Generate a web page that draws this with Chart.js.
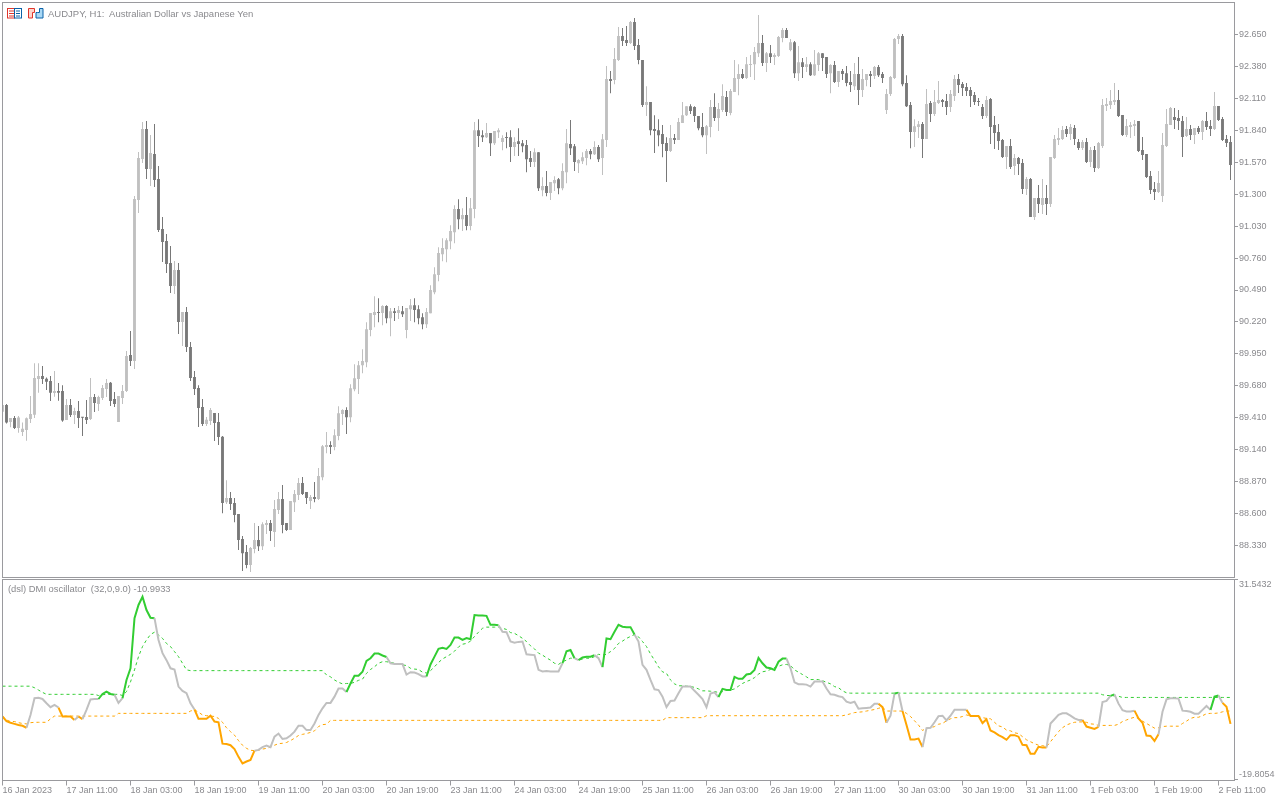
<!DOCTYPE html>
<html>
<head>
<meta charset="utf-8">
<title>AUDJPY, H1</title>
<script src="https://cdn.jsdelivr.net/npm/chart.js@4/dist/chart.umd.js"></script>
<style>
  html, body { margin: 0; padding: 0; background: #fff; }
  body { position: relative; width: 1280px; height: 800px; overflow: hidden; }
  canvas { position: absolute; left: 0; }
  #priceChart { top: 0; }
  #dmiChart { top: 578px; }
  .caption { position: absolute; font: 9.5px "Liberation Sans", sans-serif; color: #8a8a8e; white-space: pre; }
  #icons { position: absolute; left: 7px; top: 8px; }
</style>
</head>
<body>
<canvas id="priceChart" width="1280" height="578"></canvas>
<canvas id="dmiChart" width="1280" height="222"></canvas>
<svg id="icons" width="37" height="11" viewBox="0 0 37 11">
  <rect x="0.5" y="0.5" width="7" height="9.5" fill="#fff" stroke="#e0352b"/>
  <rect x="7.5" y="0.5" width="7" height="9.5" fill="#fff" stroke="#0a62a8"/>
  <path d="M2 3h5M2 5.5h5M2 8h5" stroke="#e0352b"/>
  <path d="M9 3h4M9 5.5h4M9 8h4" stroke="#0a62a8"/>
  <path d="M21.5 0.5h6v4h-2v5.5h-4z" fill="#fdd5cc" stroke="#e0352b"/>
  <path d="M30.5 4.5h2v-4h3.5v9.5h-7v-5.5z" fill="#a9d8f5" stroke="#0a62a8"/>
</svg>
<div class="caption" style="left:48px;top:8px">AUDJPY, H1:  Australian Dollar vs Japanese Yen</div>
<div class="caption" style="left:8px;top:583px;font-size:9.4px">(dsl) DMI oscillator  (32,0,9.0) -10.9933</div>
<script>
const priceTicks = [88.33, 88.6, 88.87, 89.14, 89.41, 89.68, 89.95, 90.22, 90.49, 90.76, 91.03, 91.3, 91.57, 91.84, 92.11, 92.38, 92.65];
const dmiTicks = [-19.8054, 31.5432];
const timeLabels = ["16 Jan 2023", "17 Jan 11:00", "18 Jan 03:00", "18 Jan 19:00", "19 Jan 11:00", "20 Jan 03:00", "20 Jan 19:00", "23 Jan 11:00", "24 Jan 03:00", "24 Jan 19:00", "25 Jan 11:00", "26 Jan 03:00", "26 Jan 19:00", "27 Jan 11:00", "30 Jan 03:00", "30 Jan 19:00", "31 Jan 11:00", "1 Feb 03:00", "1 Feb 19:00", "2 Feb 11:00"];

const open = [
  89.461,89.517,89.374,89.408,89.323,89.289,89.306,89.399,89.436,89.737,
  89.763,89.740,89.720,89.619,89.636,89.636,89.391,89.517,89.433,89.467,
  89.416,89.416,89.399,89.585,89.526,89.577,89.653,89.706,89.568,89.374,
  89.577,89.636,89.940,89.889,91.250,91.597,91.851,91.512,91.639,91.428,
  91.005,90.904,90.718,90.523,90.659,90.219,90.304,90.008,89.754,89.661,
  89.501,89.357,89.382,89.450,89.374,89.250,88.697,88.731,88.689,88.596,
  88.385,88.275,88.165,88.300,88.376,88.325,88.503,88.520,88.444,88.630,
  88.723,88.520,88.461,88.697,88.757,88.858,88.782,88.706,88.740,88.723,
  88.908,89.162,89.179,89.162,89.255,89.441,89.475,89.415,89.652,89.737,
  89.855,89.880,90.151,90.278,90.303,90.295,90.354,90.252,90.311,90.295,
  90.311,90.151,90.328,90.362,90.328,90.260,90.201,90.294,90.472,90.616,
  90.793,90.835,90.903,90.979,91.174,91.089,91.123,91.030,91.174,91.841,
  91.799,91.782,91.816,91.731,91.824,91.740,91.782,91.782,91.698,91.748,
  91.731,91.715,91.605,91.571,91.655,91.334,91.368,91.309,91.393,91.427,
  91.351,91.486,91.723,91.706,91.562,91.579,91.605,91.664,91.638,91.698,
  91.605,91.757,92.273,92.264,92.433,92.636,92.602,92.577,92.755,92.560,
  92.433,92.053,92.078,91.850,91.841,91.808,91.732,91.664,91.774,91.757,
  91.901,91.968,92.044,92.036,91.960,91.867,91.799,91.867,92.036,91.943,
  92.011,92.121,91.985,92.163,92.273,92.315,92.281,92.391,92.399,92.492,
  92.577,92.408,92.492,92.459,92.467,92.619,92.687,92.518,92.585,92.323,
  92.416,92.374,92.399,92.306,92.391,92.492,92.459,92.323,92.391,92.247,
  92.340,92.323,92.247,92.213,92.315,92.180,92.264,92.315,92.298,92.374,
  92.315,92.011,92.146,92.281,92.611,92.636,92.239,92.053,91.825,91.867,
  91.893,91.766,92.070,91.977,92.070,92.096,92.087,92.037,92.130,92.273,
  92.231,92.206,92.180,92.138,92.087,92.037,91.961,92.104,91.884,91.825,
  91.758,91.614,91.707,91.538,91.606,91.563,91.343,91.428,91.107,91.267,
  91.208,91.267,91.217,91.606,91.758,91.766,91.851,91.808,91.859,91.741,
  91.690,91.741,91.572,91.673,91.521,91.707,92.045,92.054,92.079,92.096,
  91.969,91.800,91.868,91.876,91.918,91.673,91.639,91.453,91.343,91.318,
  91.284,91.707,91.884,91.952,91.944,91.918,91.791,91.851,91.800,91.859,
  91.825,91.918,91.876,91.851,92.045,91.935,91.766,91.741
];
const high = [
  89.517,89.526,89.408,89.425,89.425,89.371,89.413,89.594,89.870,89.870,
  89.847,89.751,89.763,89.805,89.703,89.684,89.568,89.568,89.495,89.551,
  89.416,89.560,89.746,89.610,89.596,89.687,89.737,89.712,89.627,89.594,
  89.687,89.974,90.143,91.284,91.656,91.910,91.918,91.800,91.893,91.538,
  91.107,90.963,90.862,90.735,90.718,90.304,90.346,90.050,89.805,89.684,
  89.568,89.416,89.492,89.450,89.450,89.255,88.883,88.782,88.731,88.596,
  88.410,88.334,88.317,88.520,88.495,88.528,88.545,88.545,88.714,88.782,
  88.841,88.520,88.706,88.799,88.900,88.909,88.782,88.757,88.867,88.985,
  89.179,89.289,89.212,89.314,89.508,89.483,89.500,89.694,89.863,89.889,
  89.990,90.218,90.295,90.438,90.421,90.362,90.362,90.337,90.337,90.354,
  90.354,90.337,90.413,90.421,90.362,90.294,90.337,90.531,90.683,90.852,
  90.928,90.928,91.038,91.207,91.258,91.182,91.275,91.267,91.909,91.934,
  91.841,91.901,91.816,91.833,91.858,91.799,91.824,91.841,91.782,91.858,
  91.757,91.757,91.664,91.689,91.655,91.444,91.495,91.402,91.452,91.436,
  91.562,91.850,91.926,91.723,91.596,91.655,91.681,91.681,91.748,91.715,
  91.808,92.383,92.340,92.535,92.712,92.704,92.721,92.763,92.788,92.611,
  92.433,92.213,92.078,91.968,91.934,91.884,91.782,91.884,91.808,91.943,
  92.078,92.044,92.061,92.044,91.960,91.985,91.884,92.095,92.154,92.070,
  92.230,92.171,92.188,92.433,92.399,92.357,92.459,92.476,92.543,92.814,
  92.645,92.501,92.560,92.492,92.636,92.704,92.704,92.611,92.594,92.552,
  92.450,92.459,92.416,92.518,92.501,92.492,92.459,92.399,92.425,92.340,
  92.357,92.383,92.340,92.408,92.459,92.357,92.315,92.340,92.383,92.391,
  92.332,92.188,92.298,92.619,92.653,92.653,92.306,92.078,91.934,91.918,
  91.910,92.189,92.087,92.180,92.256,92.104,92.147,92.180,92.307,92.316,
  92.248,92.240,92.206,92.163,92.113,92.062,92.130,92.113,91.961,91.893,
  91.766,91.707,91.766,91.639,91.614,91.597,91.445,91.436,91.267,91.377,
  91.428,91.377,91.614,91.800,91.859,91.876,91.876,91.893,91.884,91.766,
  91.758,91.775,91.699,91.707,91.741,92.104,92.113,92.180,92.240,92.180,
  91.969,91.935,91.910,91.927,91.918,91.783,91.639,91.496,91.403,91.496,
  91.817,92.020,92.037,92.028,92.011,91.961,91.952,91.884,91.859,91.876,
  91.927,91.994,91.927,92.163,92.045,91.952,91.800,91.791
];
const low = [
  89.461,89.362,89.329,89.315,89.284,89.255,89.216,89.365,89.408,89.622,
  89.695,89.644,89.551,89.588,89.554,89.377,89.391,89.416,89.357,89.323,
  89.255,89.357,89.391,89.458,89.467,89.560,89.585,89.509,89.501,89.374,
  89.526,89.627,89.847,89.822,91.141,91.563,91.428,91.369,91.360,90.980,
  90.726,90.633,90.464,90.456,90.118,90.016,89.966,89.720,89.602,89.332,
  89.340,89.340,89.348,89.213,89.179,88.604,88.681,88.630,88.528,88.292,
  88.114,88.139,88.106,88.266,88.283,88.292,88.427,88.368,88.317,88.596,
  88.435,88.452,88.461,88.613,88.714,88.757,88.681,88.638,88.697,88.714,
  88.883,89.111,89.103,89.136,89.221,89.348,89.272,89.373,89.635,89.610,
  89.787,89.838,90.100,90.176,90.218,90.193,90.210,90.100,90.227,90.244,
  90.261,90.083,90.227,90.218,90.201,90.159,90.168,90.294,90.455,90.565,
  90.734,90.725,90.835,90.886,91.004,90.988,90.996,90.996,91.097,91.698,
  91.740,91.774,91.622,91.715,91.774,91.672,91.689,91.571,91.622,91.622,
  91.655,91.486,91.529,91.529,91.326,91.283,91.283,91.250,91.326,91.300,
  91.334,91.393,91.630,91.495,91.478,91.554,91.545,91.596,91.630,91.571,
  91.461,91.698,92.154,92.230,92.425,92.552,92.552,92.569,92.518,92.399,
  92.036,91.960,91.799,91.647,91.706,91.613,91.402,91.656,91.723,91.757,
  91.901,91.960,91.977,91.909,91.841,91.782,91.639,91.782,91.918,91.833,
  91.994,91.960,91.968,92.163,92.137,92.273,92.273,92.290,92.264,92.459,
  92.383,92.332,92.408,92.391,92.459,92.585,92.619,92.509,92.281,92.256,
  92.281,92.332,92.298,92.298,92.340,92.340,92.281,92.154,92.239,92.205,
  92.264,92.213,92.163,92.180,92.053,92.121,92.213,92.205,92.273,92.290,
  92.239,91.977,92.129,92.273,92.569,92.213,92.036,91.689,91.698,91.774,
  91.606,91.766,91.910,91.961,92.062,92.037,91.969,91.994,92.087,92.155,
  92.130,92.130,92.037,92.054,92.045,91.935,91.944,91.724,91.682,91.673,
  91.606,91.513,91.513,91.462,91.462,91.301,91.293,91.107,91.081,91.141,
  91.132,91.124,91.191,91.597,91.715,91.758,91.783,91.758,91.715,91.673,
  91.673,91.563,91.529,91.487,91.513,91.690,92.003,92.020,92.054,91.952,
  91.791,91.783,91.775,91.791,91.656,91.589,91.436,91.301,91.250,91.310,
  91.234,91.699,91.884,91.851,91.842,91.614,91.783,91.758,91.724,91.808,
  91.758,91.842,91.791,91.842,91.918,91.749,91.699,91.420
];
const close = [
  89.517,89.371,89.408,89.323,89.413,89.317,89.405,89.441,89.746,89.763,
  89.737,89.715,89.622,89.636,89.622,89.388,89.517,89.433,89.467,89.408,
  89.410,89.391,89.585,89.534,89.585,89.661,89.703,89.551,89.526,89.594,
  89.636,89.932,89.889,91.259,91.605,91.851,91.512,91.648,91.419,90.997,
  90.895,90.709,90.523,90.659,90.219,90.304,90.008,89.746,89.653,89.492,
  89.357,89.394,89.475,89.365,89.247,88.689,88.731,88.681,88.588,88.376,
  88.266,88.165,88.309,88.376,88.325,88.511,88.520,88.452,88.638,88.723,
  88.503,88.461,88.706,88.765,88.858,88.765,88.731,88.740,88.723,88.917,
  89.170,89.179,89.162,89.263,89.449,89.475,89.415,89.660,89.745,89.855,
  89.889,90.159,90.295,90.303,90.295,90.354,90.252,90.311,90.295,90.320,
  90.286,90.337,90.362,90.320,90.252,90.201,90.303,90.489,90.624,90.802,
  90.844,90.911,90.988,91.174,91.089,91.123,91.030,91.182,91.841,91.791,
  91.782,91.816,91.731,91.833,91.841,91.774,91.774,91.698,91.740,91.723,
  91.706,91.596,91.571,91.655,91.351,91.368,91.309,91.402,91.419,91.351,
  91.495,91.731,91.689,91.571,91.588,91.613,91.664,91.638,91.698,91.596,
  91.765,92.273,92.256,92.442,92.636,92.594,92.577,92.755,92.552,92.433,
  92.053,92.078,91.841,91.833,91.799,91.723,91.664,91.774,91.757,91.909,
  91.968,92.044,92.002,91.960,91.858,91.799,91.875,92.036,91.943,92.019,
  92.129,91.994,92.171,92.281,92.315,92.281,92.399,92.399,92.501,92.577,
  92.408,92.492,92.459,92.476,92.628,92.687,92.619,92.585,92.323,92.416,
  92.374,92.399,92.306,92.399,92.492,92.450,92.315,92.391,92.247,92.340,
  92.315,92.239,92.222,92.315,92.180,92.273,92.315,92.298,92.374,92.306,
  92.281,92.146,92.290,92.611,92.636,92.230,92.044,91.825,91.875,91.892,
  91.766,92.062,91.977,92.079,92.096,92.079,92.037,92.147,92.273,92.223,
  92.197,92.172,92.130,92.079,92.079,91.961,92.096,91.868,91.817,91.749,
  91.614,91.707,91.529,91.606,91.555,91.343,91.428,91.107,91.267,91.217,
  91.267,91.217,91.614,91.766,91.775,91.842,91.808,91.868,91.766,91.690,
  91.741,91.572,91.673,91.521,91.732,92.054,92.062,92.087,92.096,91.961,
  91.800,91.876,91.884,91.893,91.665,91.631,91.445,91.335,91.318,91.394,
  91.715,91.893,92.028,91.927,91.918,91.783,91.851,91.800,91.859,91.825,
  91.918,91.868,91.851,92.045,91.927,91.758,91.732,91.546
];

const dmiLine = [
  -3.6,-4.8,-5.2,-5.5,-5.8,-6.0,-6.5,-3.2,1.1,1.2,
  0.9,-0.2,-1.2,-0.6,-1.3,-3.6,-3.6,-3.6,-4.5,-3.6,
  -4.3,-1.9,0.8,0.9,0.9,2.2,2.8,2.2,2.0,-0.1,
  1.1,5.8,8.8,21.7,25.1,27.2,23.8,21.8,21.7,16.1,
  12.7,10.9,8.8,8.5,4.1,3.0,2.4,-0.2,-1.8,-4.2,
  -4.2,-4.2,-3.4,-4.9,-5.1,-10.6,-10.7,-11.0,-12.0,-14.0,
  -15.7,-15.2,-14.8,-12.4,-12.2,-11.5,-11.1,-11.5,-8.8,-8.0,
  -9.4,-9.2,-8.5,-7.5,-6.0,-6.0,-7.1,-7.1,-5.4,-3.2,
  -1.5,-0.1,-0.1,1.5,3.6,3.6,2.7,4.9,6.9,6.9,
  7.9,10.7,11.4,12.6,12.6,12.1,11.7,10.1,9.9,9.9,
  9.9,7.2,7.8,7.7,7.3,6.7,6.7,9.8,11.8,13.8,
  14.1,13.8,14.8,16.7,16.7,16.1,16.6,16.3,22.5,22.4,
  22.4,22.3,20.0,20.0,19.9,18.2,18.1,15.7,15.4,15.6,
  15.7,12.4,12.3,12.2,8.4,8.0,8.1,8.0,8.0,8.0,
  10.1,13.2,13.5,11.4,10.9,11.6,11.8,11.8,12.2,11.4,
  9.1,16.5,16.3,18.2,20.0,19.5,19.4,19.4,17.5,15.7,
  9.7,8.4,5.8,3.4,3.2,1.5,-1.2,0.4,0.5,2.4,
  4.1,4.1,4.1,3.0,2.0,0.9,-1.2,2.3,2.6,1.4,
  3.5,3.2,3.2,6.6,6.1,6.1,7.2,7.4,8.4,11.5,
  10.1,9.0,8.8,8.4,10.5,11.3,11.3,8.8,5.2,4.7,
  4.7,4.6,4.1,5.4,5.4,5.4,3.6,2.1,2.0,1.6,
  1.4,0.2,-0.1,0.2,-1.6,-1.5,-1.4,-1.3,-0.3,-0.3,
  -1.2,-5.2,-3.4,2.3,2.5,-2.2,-5.8,-9.5,-9.5,-9.3,
  -11.5,-6.6,-6.5,-5.1,-3.5,-3.4,-4.6,-3.4,-1.9,-1.9,
  -1.9,-1.9,-3.5,-3.5,-3.5,-5.3,-4.3,-7.2,-7.7,-8.4,
  -8.9,-9.6,-8.4,-8.4,-8.8,-10.9,-11.0,-13.2,-13.2,-11.4,
  -11.6,-11.6,-5.4,-4.3,-3.2,-2.8,-2.8,-3.4,-4.1,-4.5,
  -4.5,-6.2,-6.5,-6.8,-6.3,0.1,0.4,1.7,2.1,-0.3,
  -2.0,-2.3,-2.3,-2.1,-4.1,-5.2,-8.5,-8.6,-9.9,-8.2,
  -2.4,0.8,1.1,1.1,1.0,-2.1,-2.2,-2.4,-2.9,-2.9,
  -1.9,-0.9,-1.9,1.5,1.8,-0.1,-1.1,-5.5
];
const dmiUpper = [
  4.2,4.2,4.2,4.2,4.2,4.2,4.2,4.2,3.8,3.2,
  2.6,2.1,2.1,2.1,2.1,2.1,2.1,2.1,2.1,2.1,
  2.1,2.1,2.1,2.1,1.8,2.0,2.1,2.1,2.1,2.1,
  1.8,2.8,5.3,8.4,11.8,14.4,16.1,17.5,18.1,17.4,
  16.5,15.2,14.4,13.1,11.8,10.1,8.4,8.2,8.2,8.2,
  8.2,8.2,8.2,8.2,8.2,8.2,8.2,8.2,8.2,8.2,
  8.2,8.2,8.2,8.2,8.2,8.2,8.2,8.2,8.2,8.2,
  8.2,8.2,8.2,8.2,8.2,8.2,8.2,8.2,8.2,8.2,
  8.2,7.1,6.6,5.8,5.2,4.8,4.9,4.9,5.2,5.7,
  6.0,7.5,8.5,9.2,10.1,10.5,10.5,10.3,10.1,9.8,
  9.7,9.5,8.8,8.6,8.5,7.8,7.6,8.2,9.2,10.3,
  11.2,11.8,12.4,13.2,14.3,15.0,15.2,15.8,17.0,18.1,
  19.1,19.4,19.4,19.4,19.4,19.1,18.8,18.0,17.8,17.2,
  16.5,15.7,14.6,13.8,12.7,12.2,11.5,10.9,10.1,9.8,
  10.5,10.9,11.4,11.4,10.9,11.2,11.4,11.4,11.8,12.4,
  12.2,12.4,13.1,13.9,15.2,15.8,16.5,17.0,17.5,16.9,
  15.7,14.4,12.5,10.9,9.2,7.9,7.5,5.8,4.8,4.3,
  4.3,4.2,4.1,3.9,3.5,3.0,3.0,2.9,2.8,2.6,
  2.8,3.1,3.2,3.5,4.2,4.9,5.4,5.8,6.4,7.3,
  7.9,8.1,8.5,9.0,9.3,9.7,9.8,9.5,8.4,7.8,
  7.2,6.6,5.9,5.9,5.9,5.6,5.2,4.8,4.1,3.8,
  3.0,2.5,2.4,2.4,2.4,2.4,2.4,2.4,2.4,2.4,
  2.4,2.4,2.4,2.4,2.4,2.4,2.4,2.4,2.4,2.4,
  2.4,2.4,2.4,2.4,2.4,2.4,2.4,2.4,2.4,2.4,
  2.4,2.4,2.4,2.4,2.4,2.4,2.4,2.4,2.4,2.4,
  2.4,2.4,2.4,2.4,2.4,2.4,2.4,2.4,2.4,2.4,
  2.4,2.4,2.4,2.4,2.4,2.4,2.4,2.4,2.4,2.4,
  2.4,2.4,2.4,2.4,2.4,2.0,1.8,1.8,1.7,1.6,
  1.3,1.3,1.3,1.3,1.3,1.3,1.3,1.3,1.3,1.3,
  1.3,1.3,1.3,1.3,1.3,1.3,1.3,1.3,1.3,1.3,
  1.3,1.3,1.3,1.3,1.3,1.3,1.3,1.3
];
const dmiLower = [
  -3.6,-4.5,-4.9,-4.9,-5.2,-5.4,-5.5,-5.2,-5.1,-5.1,
  -5.1,-5.1,-4.2,-3.5,-3.5,-3.5,-3.5,-3.5,-3.5,-3.5,
  -3.5,-3.5,-3.5,-3.5,-3.5,-3.5,-3.5,-3.5,-3.5,-2.8,
  -2.8,-2.8,-2.8,-2.8,-2.8,-2.8,-2.8,-2.8,-2.8,-2.8,
  -2.8,-2.8,-2.8,-2.8,-2.8,-2.8,-2.8,-2.2,-1.9,-2.5,
  -3.2,-3.4,-3.5,-3.6,-4.1,-5.1,-6.5,-7.5,-8.4,-9.8,
  -11.0,-11.8,-12.3,-12.4,-12.3,-12.0,-11.8,-11.5,-11.0,-10.6,
  -10.5,-10.3,-9.8,-9.2,-8.5,-8.2,-8.0,-7.7,-7.3,-6.2,
  -5.7,-5.6,-4.6,-4.6,-4.6,-4.6,-4.6,-4.6,-4.6,-4.6,
  -4.6,-4.6,-4.6,-4.6,-4.6,-4.6,-4.6,-4.6,-4.6,-4.6,
  -4.6,-4.6,-4.6,-4.6,-4.6,-4.6,-4.6,-4.6,-4.6,-4.6,
  -4.6,-4.6,-4.6,-4.6,-4.6,-4.6,-4.6,-4.6,-4.6,-4.6,
  -4.6,-4.6,-4.6,-4.6,-4.6,-4.6,-4.6,-4.6,-4.6,-4.6,
  -4.6,-4.6,-4.6,-4.6,-4.6,-4.6,-4.6,-4.6,-4.6,-4.6,
  -4.6,-4.6,-4.6,-4.6,-4.6,-4.6,-4.6,-4.6,-4.6,-4.6,
  -4.6,-4.6,-4.6,-4.6,-4.6,-4.6,-4.6,-4.6,-4.6,-4.6,
  -4.6,-4.6,-4.6,-4.6,-4.6,-4.6,-3.9,-3.9,-3.9,-3.9,
  -3.9,-3.9,-3.9,-3.9,-3.9,-3.9,-3.4,-3.4,-3.4,-3.4,
  -3.4,-3.4,-3.4,-3.4,-3.4,-3.4,-3.4,-3.4,-3.4,-3.4,
  -3.4,-3.4,-3.4,-3.4,-3.4,-3.4,-3.4,-3.4,-3.4,-3.4,
  -3.4,-3.4,-3.4,-3.4,-3.4,-3.4,-3.4,-3.4,-3.4,-3.4,
  -3.4,-3.2,-2.9,-2.6,-2.5,-2.4,-2.2,-2.0,-1.8,-1.5,
  -1.2,-2.2,-2.2,-2.2,-2.2,-2.2,-2.8,-3.6,-4.7,-5.8,
  -7.2,-6.6,-6.5,-6.2,-5.6,-5.4,-4.7,-4.2,-3.9,-3.9,
  -3.6,-3.2,-3.5,-3.5,-3.6,-3.9,-4.1,-4.2,-5.1,-6.0,
  -6.3,-7.1,-7.3,-7.8,-8.0,-8.8,-9.6,-10.1,-10.6,-11.0,
  -11.1,-11.4,-10.1,-8.8,-7.5,-6.5,-5.8,-5.4,-5.1,-5.0,
  -5.0,-5.1,-5.5,-5.6,-5.9,-5.9,-5.9,-5.9,-5.9,-5.6,
  -4.9,-4.5,-4.1,-3.8,-4.1,-4.8,-5.4,-6.0,-6.6,-6.5,
  -6.2,-6.1,-6.1,-6.1,-6.1,-5.4,-4.8,-4.1,-3.8,-3.8,
  -3.4,-2.9,-2.8,-2.8,-2.7,-2.4,-2.2,-2.2
];
// bar ranges where the main line changes colour
const greenRuns = [[24,28],[30,38],[86,96],[106,124],[140,143],[144,148],[150,158],[179,196],[223,224],[277,278],[302,304]];
const orangeRuns = [[0,6],[14,18],[19,20],[48,63],[219,221],[225,230],[241,261],[270,274],[283,289],[305,307]];

const axisGray = "#9a9a9e";
const textGray = "#8a8a8e";
const upColor = "#c0c0c0";
const downColor = "#787878";
const axisFont = { family: "Liberation Sans", size: 9, lineHeight: 1 };

function inRuns(runs, a, b) {
  return runs.some(function (r) { return a >= r[0] && b <= r[1]; });
}
function candleColor(ctx) {
  return close[ctx.dataIndex] >= open[ctx.dataIndex] ? upColor : downColor;
}
function points(values) {
  return values.map(function (y, x) { return { x: x, y: y }; });
}
function ranges(a, b) {
  return a.map(function (v, i) { return { x: i, y: [v, b[i]] }; });
}

const frame = {
  id: "frame",
  afterDraw: function (chart) {
    const a = chart.chartArea, c = chart.ctx;
    c.save();
    c.strokeStyle = axisGray;
    c.lineWidth = 1;
    c.strokeRect(2.5, Math.floor(a.top) + 0.5, 1232, Math.floor(a.bottom) - Math.floor(a.top));
    c.restore();
  }
};

function xScale(showLabels) {
  return {
    type: "linear",
    min: -0.125,
    max: 307.875,
    offset: false,
    display: showLabels,
    border: { display: false },
    grid: { offset: false, drawOnChartArea: false, color: axisGray, tickLength: 5 },
    ticks: {
      autoSkip: false,
      maxRotation: 0,
      align: "start",
      padding: 1,
      color: textGray,
      font: axisFont,
      callback: function (v) { return timeLabels[v / 16]; }
    },
    afterBuildTicks: function (s) {
      s.ticks = timeLabels.map(function (t, i) { return { value: i * 16 }; });
    },
    afterFit: function (s) {
      s.height = showLabels ? 19.5 : 0;
      s.paddingLeft = 0;
      s.paddingRight = 0;
    }
  };
}
function yScale(min, max, tickValues, label) {
  return {
    position: "right",
    min: min,
    max: max,
    border: { display: false },
    grid: { drawOnChartArea: false, color: axisGray, tickLength: 4 },
    ticks: { autoSkip: false, padding: 1, color: textGray, font: axisFont, callback: label },
    afterBuildTicks: function (s) {
      s.ticks = tickValues.map(function (v) { return { value: v }; });
    },
    afterFit: function (s) {
      s.width = 46;
      s.paddingTop = 0;
      s.paddingBottom = 0;
    }
  };
}

new Chart(document.getElementById("priceChart"), {
  type: "bar",
  data: {
    datasets: [
      // grouped:false ignores barThickness, maxBarThickness still applies
      { data: ranges(low, high), maxBarThickness: 1, grouped: false, order: 2, backgroundColor: candleColor },
      { data: ranges(open, close), maxBarThickness: 3, grouped: false, order: 1, minBarLength: 1, backgroundColor: candleColor }
    ]
  },
  options: {
    responsive: false,
    animation: false,
    events: [],
    layout: { padding: { left: 2, top: 2.5, right: 0, bottom: 0.5 } },
    plugins: { legend: { display: false }, tooltip: { enabled: false } },
    scales: {
      x: xScale(false),
      y: yScale(88.06, 92.92, priceTicks, function (v) { return v.toFixed(3); })
    }
  },
  plugins: [frame]
});

new Chart(document.getElementById("dmiChart"), {
  type: "line",
  data: {
    datasets: [
      { data: points(dmiUpper), borderColor: "#32cd32", borderWidth: 1, borderDash: [3, 3], pointRadius: 0, order: 3 },
      { data: points(dmiLower), borderColor: "#ffa500", borderWidth: 1, borderDash: [3, 3], pointRadius: 0, order: 2 },
      {
        data: points(dmiLine),
        borderColor: upColor,
        borderWidth: 2,
        pointRadius: 0,
        order: 1,
        segment: {
          borderColor: function (ctx) {
            if (inRuns(greenRuns, ctx.p0DataIndex, ctx.p1DataIndex)) return "#32cd32";
            if (inRuns(orangeRuns, ctx.p0DataIndex, ctx.p1DataIndex)) return "#ffa500";
            return upColor;
          }
        }
      }
    ]
  },
  options: {
    responsive: false,
    animation: false,
    events: [],
    layout: { padding: { left: 2, top: 1.5, right: 0, bottom: 0 } },
    plugins: { legend: { display: false }, tooltip: { enabled: false } },
    scales: {
      x: xScale(true),
      y: yScale(-20.08, 31.66, dmiTicks, function (v) {
        // the pane's two labels sit just inside their tick marks
        return v > 0 ? ["", v.toFixed(4)] : [v.toFixed(4), ""];
      })
    }
  },
  plugins: [frame]
});
</script>
</body>
</html>
